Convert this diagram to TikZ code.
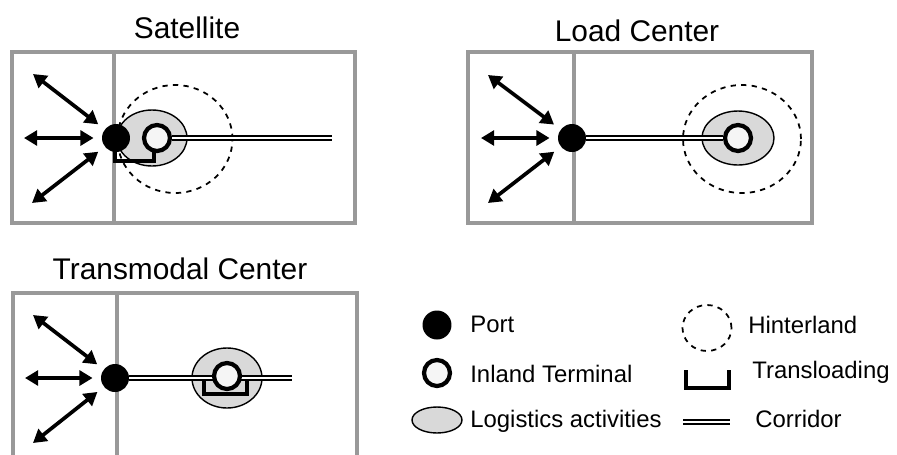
\documentclass[tikz,border=0pt]{standalone}
\usepackage{fontspec}
\setmainfont{Liberation Sans}
\usetikzlibrary{shapes.geometric,arrows.meta}

\tikzset{
  panel/.style={draw=gray!80, line width=2pt},
  title/.style={font=\fontsize{17}{20}\selectfont, anchor=base, inner sep=0pt},
  legtext/.style={font=\fontsize{13.6}{16}\selectfont, anchor=base west, inner sep=0pt},
  port/.style={circle, fill=black, minimum size=0.56cm, inner sep=0pt},
  terminal/.style={circle, draw, line width=2.4pt, fill=gray!8, minimum size=0.52cm, inner sep=0pt},
  logistics/.style={ellipse, draw, line width=0.8pt, fill=gray!30, inner sep=0pt},
  hinterland/.style={ellipse, draw, dashed, line width=1pt, inner sep=0pt},
  corridor/.style={double, double distance=1.3pt, line width=1pt},
  transload/.style={line width=2.1pt},
  flow/.style={{Triangle[length=7.5pt,width=8.5pt]}-{Triangle[length=7.5pt,width=8.5pt]}, line width=2.1pt, shorten >=4.6pt},
}

\begin{document}
\begin{tikzpicture}[x=0.02cm, y=-0.02cm]
            \clip (0,0) rectangle (897,454);
            \fill[white] (0,0) rectangle (897,454);

            % Satellite
            \node[title] (tsat) at (187,38) {Satellite};
            \draw[panel] (12,52) rectangle (355,223);
            \draw[panel] (114,52) -- (114,223);
            \node[hinterland, minimum width=2.3cm, minimum height=2.16cm] (shint) at (175,139) {};
            \node[logistics, minimum width=1.4cm, minimum height=1.12cm] (slog) at (152,138) {};
            \node[port] (sport) at (116,138) {};
            \node[terminal] (sterm) at (157,138) {};
            \coordinate (send) at (332,138);
            \draw[corridor] (sterm) -- (send);
            \draw[transload] (115,149) -- (115,161) -- (154,161) -- (154,151);
            \coordinate (sa1) at (33,74);
            \coordinate (sa2) at (24,138);
            \coordinate (sa3) at (32,203);
            \draw[flow] (sa1) -- (sport);
            \draw[flow] (sa2) -- (sport);
            \draw[flow] (sa3) -- (sport);

            % Load Center
            \node[title] (tload) at (637,41) {Load Center};
            \draw[panel] (468,52) rectangle (812,223);
            \draw[panel] (574,52) -- (574,223);
            \node[hinterland, minimum width=2.36cm, minimum height=2.16cm] (lhint) at (742,139) {};
            \node[logistics, minimum width=1.44cm, minimum height=1.08cm] (llog) at (738,138) {};
            \node[port] (lport) at (572,138) {};
            \node[terminal] (lterm) at (738,138) {};
            \draw[corridor] (lport) -- (lterm);
            \coordinate (la1) at (488,75);
            \coordinate (la2) at (481,138);
            \coordinate (la3) at (488,203);
            \draw[flow] (la1) -- (lport);
            \draw[flow] (la2) -- (lport);
            \draw[flow] (la3) -- (lport);

            % Transmodal Center
            \node[title] (ttrans) at (180,279) {Transmodal Center};
            \draw[panel] (13,470) -- (13,293) -- (357,293) -- (357,470);
            \draw[panel] (117,293) -- (117,470);
            \node[logistics, minimum width=1.4cm, minimum height=1.2cm] (tlog) at (227,378) {};
            \node[port] (tport) at (115,378) {};
            \coordinate (tend) at (292,378);
            \draw[corridor] (tport) -- (tend);
            \node[terminal] (tterm) at (227,376) {};
            \draw[transload] (204,381) -- (204,394) -- (247,394) -- (247,381);
            \coordinate (ta1) at (33,315);
            \coordinate (ta2) at (25,378);
            \coordinate (ta3) at (33,443);
            \draw[flow] (ta1) -- (tport);
            \draw[flow] (ta2) -- (tport);
            \draw[flow] (ta3) -- (tport);

            % Legend
            \node[port, minimum size=0.58cm] (kport) at (437,325) {};
            \node[legtext] (kporttxt) at (470,332) {Port};
            \node[terminal] (kterm) at (437,373) {};
            \node[legtext] (ktermtxt) at (470,382) {Inland Terminal};
            \node[logistics, minimum width=1.0cm, minimum height=0.52cm] (klog) at (437,420) {};
            \node[legtext] (klogtxt) at (470,427) {Logistics activities};
            \node[hinterland, minimum width=0.98cm, minimum height=0.92cm] (khint) at (707,328) {};
            \node[legtext] (khinttxt) at (748,333) {Hinterland};
            \draw[transload] (686,370) -- (686,388) -- (729,388) -- (729,370);
            \node[legtext] (ktranstxt) at (752,378) {Transloading};
            \coordinate (kc1) at (683,422);
            \coordinate (kc2) at (730,422);
            \draw[corridor] (kc1) -- (kc2);
            \node[legtext] (kcortxt) at (755,427) {Corridor};
\end{tikzpicture}
\end{document}
